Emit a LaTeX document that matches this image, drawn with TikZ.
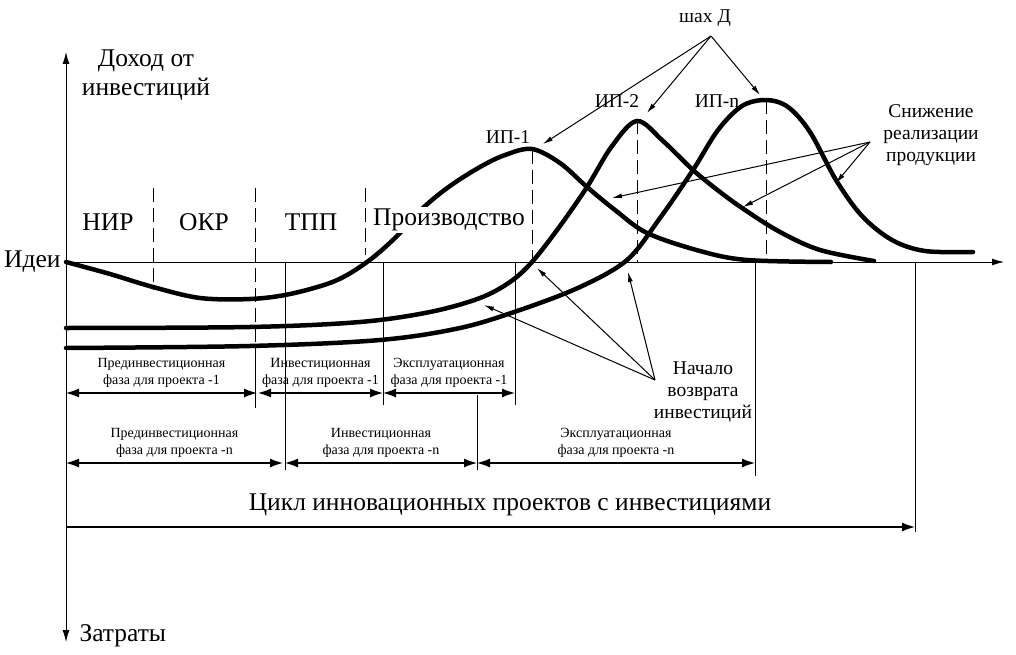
\documentclass[tikz,border=0pt]{standalone}
\usepackage{fontspec}
\setmainfont{Liberation Serif}
\usetikzlibrary{arrows.meta}
\tikzset{
  curve/.style={line width=4.5pt, line cap=round},
  phaseline/.style={line width=1pt, dash pattern=on 14pt off 6pt},
  guide/.style={line width=0.9pt},
  span/.style={line width=1.3pt, {Latex[length=13pt,width=9pt]}-{Latex[length=13pt,width=9pt]}},
  pointer/.style={line width=1pt, -{Latex[length=10pt,width=5pt]}},
  big/.style={font=\fontsize{25.5}{29}\selectfont, align=center},
  mid/.style={font=\fontsize{19.5}{22}\selectfont, align=center},
  small/.style={font=\fontsize{14}{17}\selectfont, align=center},
}
\begin{document}
\begin{tikzpicture}[x=1pt,y=-1pt]
\useasboundingbox (0,0) rectangle (1016,655);
% axes
\coordinate (O) at (66,262);
\coordinate (top) at (66,52);
\coordinate (bottom) at (66,642);
\coordinate (right) at (1004,262);
\draw[guide,-{Latex[length=12pt,width=7pt]}] (O) -- (top);
\draw[guide,-{Latex[length=12pt,width=7pt]}] (O) -- (bottom);
\draw[guide,-{Latex[length=12pt,width=7pt]}] (O) -- (right);
\node[big] (income) at (146,75) {Доход от\\инвестиций};
\node[big, anchor=east] (idea) at (64,262) {Идеи};
\node[big, anchor=west] (costs) at (76,636) {Затраты};
% stages
\draw[phaseline] (153,188) -- (153,290);
\draw[phaseline] (255,188) -- (255,345);
\draw[guide] (255,345) -- (255,408);
\draw[phaseline] (365,188) -- (365,255);
\node[big] (nir) at (108,222) {НИР};
\node[big] (okr) at (204,222) {ОКР};
\node[big] (tpp) at (311,222) {ТПП};
% peaks
\draw[phaseline] (532,150) -- (532,262);
\draw[phaseline] (637,120) -- (637,262);
\draw[phaseline] (766,100) -- (766,262);
% phase borders
\draw[guide] (285,262) -- (285,470);
\draw[guide] (383,262) -- (383,405);
\draw[guide] (515,262) -- (515,405);
\draw[guide] (477,395) -- (477,470);
\draw[guide] (755,262) -- (755,476);
\draw[guide] (915,262) -- (915,532);
% curves
\draw[curve] plot[smooth, tension=0.55] coordinates {(66,262) (110,274) (153,287) (200,298) (250,299) (290,294) (335,281) (367,262) (395,238) (423,208) (450,186) (480,167) (505,155) (532,149) (560,163) (587,187) (615,210) (647,233) (700,251) (747,260) (831,262)};
\draw[curve] plot[smooth, tension=0.55] coordinates {(66,328) (250,327) (360,322) (430,312) (480,298) (510,282) (532,262) (560,226) (587,187) (612,146) (637,121) (663,141) (693,170) (720,192) (745,210) (780,232) (820,250) (874,261)};
\draw[curve] plot[smooth, tension=0.55] coordinates {(66,348) (250,346) (380,340) (460,328) (520,310) (580,287) (627,260) (660,218) (693,170) (718,130) (742,106) (766,100) (788,107) (810,132) (836,180) (862,216) (892,240) (925,251) (973,252)};
\node[big, fill=white, inner xsep=1pt, inner ysep=2pt] (prod) at (449,220) {Производство};
% spans
\foreach \name/\xa/\xb/\yy/\txt in {
  pre1/66/257/393/{Прединвестиционная\\фаза для проекта -1},
  inv1/258/383/393/{Инвестиционная\\фаза для проекта -1},
  exp1/383/515/393/{Эксплуатационная\\фаза для проекта -1},
  pren/66/283/463/{Прединвестиционная\\фаза для проекта -n},
  invn/285/477/463/{Инвестиционная\\фаза для проекта -n},
  expn/477/755/463/{Эксплуатационная\\фаза для проекта -n}} {
  \coordinate (\name-l) at (\xa,\yy);
  \coordinate (\name-r) at (\xb,\yy);
  \draw[span] (\name-l) -- (\name-r);
  \node[small] (\name) at ({(\xa+\xb)/2},\yy-20) {\txt};
}
\coordinate (cycle-l) at (66,527);
\coordinate (cycle-r) at (915,527);
\draw[line width=1.3pt, -{Latex[length=13pt,width=9pt]}] (cycle-l) -- (cycle-r);
\node[big] (cycle) at (510,505) {Цикл инновационных проектов с инвестициями};
% peak labels
\node[mid] (ip1) at (508,137) {ИП-1};
\node[mid] (ip2) at (617,101) {ИП-2};
\node[mid] (ipn) at (717,101) {ИП-n};
\node[mid] (max) at (705,18) {шах Д};
\coordinate (maxtip) at (711,36);
\coordinate (peak1) at (543,144);
\coordinate (peak2) at (647,113);
\coordinate (peakn) at (760,95);
\draw[pointer] (maxtip) -- (peak1);
\draw[pointer] (maxtip) -- (peak2);
\draw[pointer] (maxtip) -- (peakn);
% decline
\node[mid] (drop) at (931,135) {Снижение\\реализации\\продукции};
\coordinate (droptip) at (870,142);
\coordinate (drop1) at (612,198);
\coordinate (drop2) at (743,207);
\coordinate (dropn) at (836,183);
\draw[pointer] (droptip) -- (drop1);
\draw[pointer] (droptip) -- (drop2);
\draw[pointer] (droptip) -- (dropn);
% return
\node[mid] (ret) at (703,392) {Начало\\возврата\\инвестиций};
\coordinate (rettip) at (655,380);
\coordinate (ret1) at (484,305);
\coordinate (ret2) at (537,268);
\coordinate (retn) at (628,272);
\draw[pointer] (rettip) -- (ret1);
\draw[pointer] (rettip) -- (ret2);
\draw[pointer] (rettip) -- (retn);
\end{tikzpicture}
\end{document}
